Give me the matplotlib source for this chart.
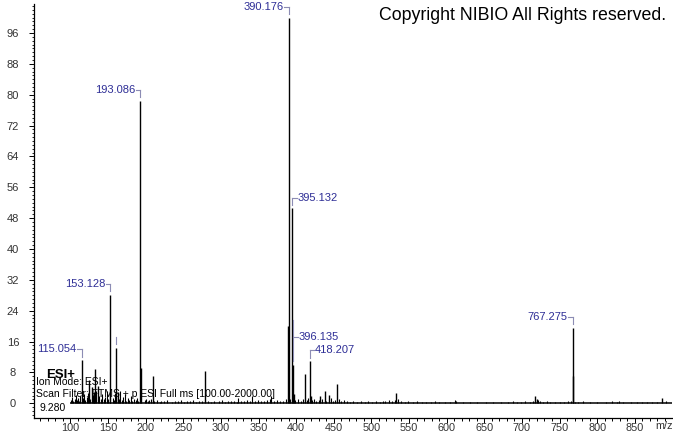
import matplotlib
matplotlib.use('Agg')
import matplotlib.pyplot as plt
from matplotlib.ticker import MultipleLocator

plt.rcParams['font.family'] = ['Liberation Sans', 'DejaVu Sans']

# labelled peaks (m/z, relative intensity)
label_mz = [115.054, 153.128, 193.086, 390.176, 395.132, 396.135, 418.207, 767.275]
label_int = [11.2, 28.2, 78.4, 100.0, 50.5, 10.0, 10.9, 19.6]
label_side = ['left', 'left', 'left', 'left', 'right', 'right', 'right', 'left']

# other visible peaks
peak_mz = [124.9, 128.1, 130.9, 133.1, 136.1, 161.1, 163.1, 194.09, 209.1, 279.1,
           389.2, 397.2, 411.9, 419.2, 432.0, 437.9, 443.1, 454.5, 533.2, 717.0,
           719.5, 768.28, 886.6]
peak_int = [6.1, 4.2, 3.0, 9.0, 4.5, 14.4, 3.0, 9.2, 7.1, 8.5,
            20.0, 2.5, 7.5, 2.0, 1.8, 3.2, 2.2, 5.1, 2.7, 2.0,
            1.1, 7.0, 1.5]

# small noise peaks along the baseline
noise_peaks = [
    (101.0, 0.9), (102.5, 1.6), (104.0, 0.7), (105.5, 1.2), (107.0, 2.1), (108.5, 0.8),
    (110.0, 1.4), (111.5, 0.6), (113.0, 1.8), (117.0, 1.3), (118.5, 2.4), (120.0, 0.9),
    (121.5, 1.7), (123.0, 2.6), (126.5, 1.1), (129.5, 2.2), (132.0, 1.4), (134.5, 3.1),
    (137.5, 1.9), (140.5, 1.2), (142.0, 2.4), (144.5, 1.0), (146.0, 1.6), (149.0, 3.2),
    (150.5, 1.1), (152.0, 2.0), (156.5, 1.5), (158.0, 0.8), (159.5, 2.6), (164.0, 1.2),
    (166.5, 3.3), (168.0, 0.9), (170.0, 1.7), (172.5, 2.3), (174.0, 0.7), (176.5, 1.4),
    (178.0, 0.9), (180.0, 1.9), (182.5, 0.6), (184.0, 1.2), (186.5, 0.8), (188.0, 1.5),
    (190.0, 0.7), (198.5, 0.9), (201.0, 1.2), (203.0, 0.5), (205.0, 0.8), (207.0, 1.1),
    (211.0, 0.6), (215.0, 0.9), (219.0, 0.4), (221.0, 0.7), (225.0, 0.5), (229.0, 0.8),
    (235.0, 0.4), (239.0, 0.6), (243.0, 0.5), (247.0, 0.9), (251.0, 0.4), (255.0, 0.6),
    (259.0, 0.5), (263.0, 0.8), (267.0, 0.4), (271.0, 0.7), (275.0, 0.5), (283.0, 0.6),
    (287.0, 0.4), (291.0, 0.7), (297.0, 0.5), (301.0, 0.8), (305.0, 0.4), (309.0, 0.6),
    (313.0, 0.5), (317.0, 0.7), (321.0, 0.4), (323.0, 1.5), (327.0, 0.6), (331.0, 0.5),
    (335.0, 0.8), (339.0, 0.6), (341.0, 1.8), (345.0, 0.5), (349.0, 0.9), (353.0, 0.6),
    (357.0, 0.5), (361.0, 0.8), (365.0, 1.2), (367.0, 2.0), (371.0, 0.6), (375.0, 0.9),
    (379.0, 0.5), (383.0, 0.7), (386.0, 1.2), (392.0, 1.0), (399.0, 0.8), (403.0, 1.2),
    (406.0, 0.7), (409.0, 1.0), (414.0, 0.9), (416.0, 1.4), (421.0, 0.8), (424.0, 1.1),
    (427.0, 0.6), (430.0, 0.9), (434.0, 1.0), (440.0, 0.7), (446.0, 1.3), (449.0, 0.6),
    (452.0, 0.9), (457.0, 1.1), (460.0, 0.6), (463.0, 0.8), (467.0, 0.5), (471.0, 0.4),
    (476.0, 0.5), (481.0, 0.3), (486.0, 0.5), (491.0, 0.4), (496.0, 0.6), (501.0, 0.3),
    (506.0, 0.5), (511.0, 0.4), (516.0, 0.7), (518.0, 0.6), (523.0, 0.8), (527.0, 0.5),
    (531.0, 0.9), (536.0, 1.2), (539.0, 0.7), (544.0, 0.4), (549.0, 0.5), (555.0, 0.3),
    (561.0, 0.5), (567.0, 0.4), (573.0, 0.3), (579.0, 0.4), (584.0, 0.5), (590.0, 0.3),
    (598.0, 0.4), (605.0, 0.3), (611.0, 0.9), (613.0, 0.6), (622.0, 0.4), (631.0, 0.3),
    (640.0, 0.4), (652.0, 0.3), (661.0, 0.3), (672.0, 0.4), (681.0, 0.3), (688.0, 0.5),
    (693.0, 0.4), (699.0, 0.3), (704.0, 0.5), (711.0, 0.4), (715.0, 0.6), (721.0, 0.9),
    (724.0, 0.6), (728.0, 0.4), (733.0, 0.5), (738.0, 0.4), (744.0, 0.3), (750.0, 0.4),
    (756.0, 0.3), (761.0, 0.5), (765.0, 0.6), (770.0, 0.4), (775.0, 0.3), (781.0, 0.5),
    (790.0, 0.3), (800.0, 0.3), (812.0, 0.3), (820.0, 0.5), (826.0, 0.4), (829.0, 0.5),
    (834.0, 0.3), (845.0, 0.3), (853.0, 0.3), (859.0, 0.4), (866.0, 0.3), (873.0, 0.4),
    (879.0, 0.3), (891.0, 0.5),
]

info_lines = ['Ion Mode: ESI+', 'Scan Filter: FTMS + p ESI Full ms [100.00-2000.00]', '9.280']

W, H = 673, 433
fig = plt.figure(figsize=(W / 100, H / 100), dpi=100)
ax = fig.add_axes([34 / W, (H - 418) / H, (672 - 34) / W, (418 - 4) / H])

lead_c = '#8c8cb4'
lab_c = '#2e2e96'

# baseline
ax.plot([100, 899.5], [0, 0], color='black', lw=1.1, solid_capstyle='butt')

nz_mz = [p[0] for p in noise_peaks]
nz_int = [p[1] for p in noise_peaks]
ax.vlines(nz_mz, 0, nz_int, color='black', lw=0.8)
ax.vlines(peak_mz, 0, peak_int, color='black', lw=1.0)
ax.vlines(label_mz, 0, label_int, color='black', lw=1.0)

# peak labels with bracket leaders
for mz, h, side in zip(label_mz, label_int, label_side):
    ly = h + 2.8
    top = ly
    if mz == 396.135:
        ly = 17.3
        top = 21.6
    ax.plot([mz, mz], [h + 0.9, top], color=lead_c, lw=0.8)
    if side == 'left':
        ax.plot([mz - 6, mz], [ly, ly], color=lead_c, lw=0.8)
        ax.text(mz - 7, ly, f'{mz:.3f}', ha='right', va='center', fontsize=8, color=lab_c)
    else:
        ax.plot([mz, mz + 6], [ly, ly], color=lead_c, lw=0.8)
        ax.text(mz + 7, ly, f'{mz:.3f}', ha='left', va='center', fontsize=8, color=lab_c)

# empty label leader above the 161 peak
ax.plot([161.1, 161.1], [15.3, 17.2], color=lead_c, lw=0.8)

ax.set_xlim(51.6, 899.5)
ax.set_ylim(-3.8, 103.5)
ax.spines['top'].set_visible(False)
ax.spines['right'].set_visible(False)
for s in ['left', 'bottom']:
    ax.spines[s].set_linewidth(0.9)

ax.xaxis.set_minor_locator(MultipleLocator(10))
ax.yaxis.set_minor_locator(MultipleLocator(1))
ax.set_xticks(list(range(100, 851, 50)))
ax.set_yticks(list(range(0, 97, 8)))
ax.tick_params(axis='x', which='major', length=3.6, width=0.7, pad=0.0, labelsize=7.8, labelcolor='#333333')
ax.tick_params(axis='x', which='minor', length=2.0, width=0.7)
ax.tick_params(axis='y', which='major', length=3.6, width=0.7, pad=11.5, labelsize=8, labelcolor='#333333')
ax.tick_params(axis='y', which='minor', length=1.4, width=0.6)
for lbl in ax.get_yticklabels():
    lbl.set_ha('center')

fig.text(664 / W, 1 - 426 / H, 'm/z', ha='center', va='center', fontsize=7.8, color='#333333')

fig.text(666 / W, 1 - 15 / H, 'Copyright NIBIO All Rights reserved.', ha='right', va='center',
         fontsize=12.8, color='black')

fig.text(46 / W, 1 - 375 / H, 'ESI+', ha='left', va='center', fontsize=9.5, fontweight='bold', color='black')
fig.text(36 / W, 1 - 382 / H, info_lines[0], ha='left', va='center', fontsize=7.5, color='black')
fig.text(36 / W, 1 - 394 / H, info_lines[1], ha='left', va='center', fontsize=7.5, color='black')
fig.text(39 / W, 1 - 408 / H, info_lines[2], ha='left', va='center', fontsize=7.5, color='black')

fig.savefig('out.png', dpi=100)
